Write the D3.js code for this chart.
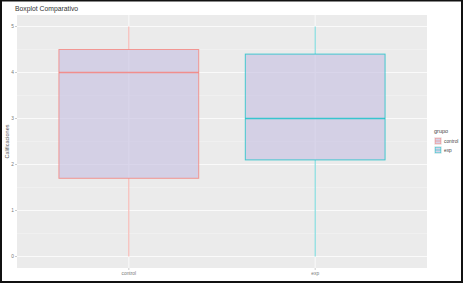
<!DOCTYPE html>
<html>
<head>
<meta charset="utf-8">
<script src="https://cdn.jsdelivr.net/npm/d3@7"></script>
<style>
  body { margin: 0; background: #fff; }
  text { font-family: "Liberation Sans", Arial, sans-serif; }
</style>
</head>
<body>
<div class="chart"></div>
<script>
// data
const grupos = ["control", "exp"];
const minimos = [0, 0];
const q1s = [1.7, 2.1];
const medianas = [4, 3];
const q3s = [4.5, 4.4];
const maximos = [5, 5];
const yTicks = [0, 1, 2, 3, 4, 5];
const colores = ["#F8766D", "#00BFC4"];

const width = 465;
const height = 286;
const panel = { left: 17, right: 427, top: 15, bottom: 268 };

const svg = d3.select(".chart").append("svg")
    .attr("width", width)
    .attr("height", height);

// outer frame
svg.append("rect")
    .attr("x", 1).attr("y", 0.5)
    .attr("width", 461).attr("height", 281.5)
    .attr("fill", "#fff")
    .attr("stroke", "#111")
    .attr("stroke-width", 2);

const y = d3.scaleLinear()
    .domain([-0.25, 5.25])
    .range([panel.bottom, panel.top]);

// ggplot discrete axis: positions 1,2 over [0.4, 2.6]
const xc = d3.scaleLinear().domain([0.4, 2.6]).range([panel.left, panel.right]);
const pos = g => xc(grupos.indexOf(g) + 1);
const boxW = xc(0.75) - xc(0);

svg.append("rect")
    .attr("x", panel.left).attr("y", panel.top)
    .attr("width", panel.right - panel.left)
    .attr("height", panel.bottom - panel.top)
    .attr("fill", "#EBEBEB");

// minor grid
const minor = d3.range(-0.5, 5.6, 1).filter(v => v > -0.25 && v < 5.25);
svg.append("g").selectAll("line").data(minor).enter().append("line")
    .attr("x1", panel.left).attr("x2", panel.right)
    .attr("y1", d => y(d)).attr("y2", d => y(d))
    .attr("stroke", "#F4F4F4").attr("stroke-width", 0.6);

// major grid
svg.append("g").selectAll("line").data(yTicks).enter().append("line")
    .attr("x1", panel.left).attr("x2", panel.right)
    .attr("y1", d => y(d)).attr("y2", d => y(d))
    .attr("stroke", "#fafafa").attr("stroke-width", 1);

svg.append("g").selectAll("line").data(grupos).enter().append("line")
    .attr("x1", d => pos(d)).attr("x2", d => pos(d))
    .attr("y1", panel.top).attr("y2", panel.bottom)
    .attr("stroke", "#fafafa").attr("stroke-width", 1);

// boxes
const cajas = grupos.map((g, i) => ({
    g, min: minimos[i], q1: q1s[i], med: medianas[i], q3: q3s[i], max: maximos[i], col: colores[i]
}));

const box = svg.append("g").selectAll("g").data(cajas).enter().append("g");

box.append("line")
    .attr("x1", d => pos(d.g)).attr("x2", d => pos(d.g))
    .attr("y1", d => y(d.max)).attr("y2", d => y(d.q3))
    .attr("stroke", d => d.col).attr("stroke-opacity", 0.7).attr("stroke-width", 0.8);
box.append("line")
    .attr("x1", d => pos(d.g)).attr("x2", d => pos(d.g))
    .attr("y1", d => y(d.q1)).attr("y2", d => y(d.min))
    .attr("stroke", d => d.col).attr("stroke-opacity", 0.7).attr("stroke-width", 0.8);

box.append("rect")
    .attr("x", d => pos(d.g) - boxW / 2)
    .attr("y", d => y(d.q3))
    .attr("width", boxW)
    .attr("height", d => y(d.q1) - y(d.q3))
    .attr("fill", "#C8C2E2").attr("fill-opacity", 0.65)
    .attr("stroke", d => d.col).attr("stroke-opacity", 0.7).attr("stroke-width", 1);

box.append("line")
    .attr("x1", d => pos(d.g) - boxW / 2).attr("x2", d => pos(d.g) + boxW / 2)
    .attr("y1", d => y(d.med)).attr("y2", d => y(d.med))
    .attr("stroke", d => d.col).attr("stroke-opacity", 0.75).attr("stroke-width", 1.6);

// axes
const tickCol = "#777";
const yAx = svg.append("g");
yAx.selectAll("line").data(yTicks).enter().append("line")
    .attr("x1", panel.left - 2).attr("x2", panel.left)
    .attr("y1", d => y(d)).attr("y2", d => y(d))
    .attr("stroke", "#aaa").attr("stroke-width", 0.6);
yAx.selectAll("text").data(yTicks).enter().append("text")
    .attr("x", panel.left - 3).attr("y", d => y(d) + 1.7)
    .attr("text-anchor", "end")
    .attr("font-size", 4.8).attr("fill", tickCol)
    .text(d => d);

const xAx = svg.append("g");
xAx.selectAll("line").data(grupos).enter().append("line")
    .attr("x1", d => pos(d)).attr("x2", d => pos(d))
    .attr("y1", panel.bottom).attr("y2", panel.bottom + 2)
    .attr("stroke", "#aaa").attr("stroke-width", 0.6);
xAx.selectAll("text").data(grupos).enter().append("text")
    .attr("x", d => pos(d)).attr("y", panel.bottom + 7)
    .attr("text-anchor", "middle")
    .attr("font-size", 4.8).attr("fill", tickCol)
    .text(d => d);

svg.append("text")
    .attr("transform", `translate(9,${(panel.top + panel.bottom) / 2}) rotate(-90)`)
    .attr("text-anchor", "middle")
    .attr("font-size", 5.5).attr("fill", "#555")
    .text("Calificaciones");

svg.append("text")
    .attr("x", 15).attr("y", 10.5)
    .attr("font-size", 6.8).attr("fill", "#333")
    .text("Boxplot Comparativo");

// legend
const leg = svg.append("g").attr("transform", "translate(434,0)");
leg.append("text").attr("x", 0).attr("y", 133)
    .attr("font-size", 5.5).attr("fill", "#444").text("grupo");
const item = leg.selectAll("g.item").data(cajas).enter().append("g")
    .attr("transform", (d, i) => `translate(0,${137 + i * 9})`);
item.append("rect").attr("width", 8).attr("height", 8).attr("fill", "#F2F2F2");
item.append("rect").attr("x", 1.2).attr("y", 1.2).attr("width", 5.6).attr("height", 5.6)
    .attr("fill", "#C8C2E2").attr("fill-opacity", 0.65)
    .attr("stroke", d => d.col).attr("stroke-opacity", 0.7).attr("stroke-width", 0.7);
item.append("line").attr("x1", 1.2).attr("x2", 6.8).attr("y1", 4).attr("y2", 4)
    .attr("stroke", d => d.col).attr("stroke-opacity", 0.7).attr("stroke-width", 0.7);
item.append("text").attr("x", 10).attr("y", 5.7)
    .attr("font-size", 4.8).attr("fill", "#444").text(d => d.g);
</script>
</body>
</html>
